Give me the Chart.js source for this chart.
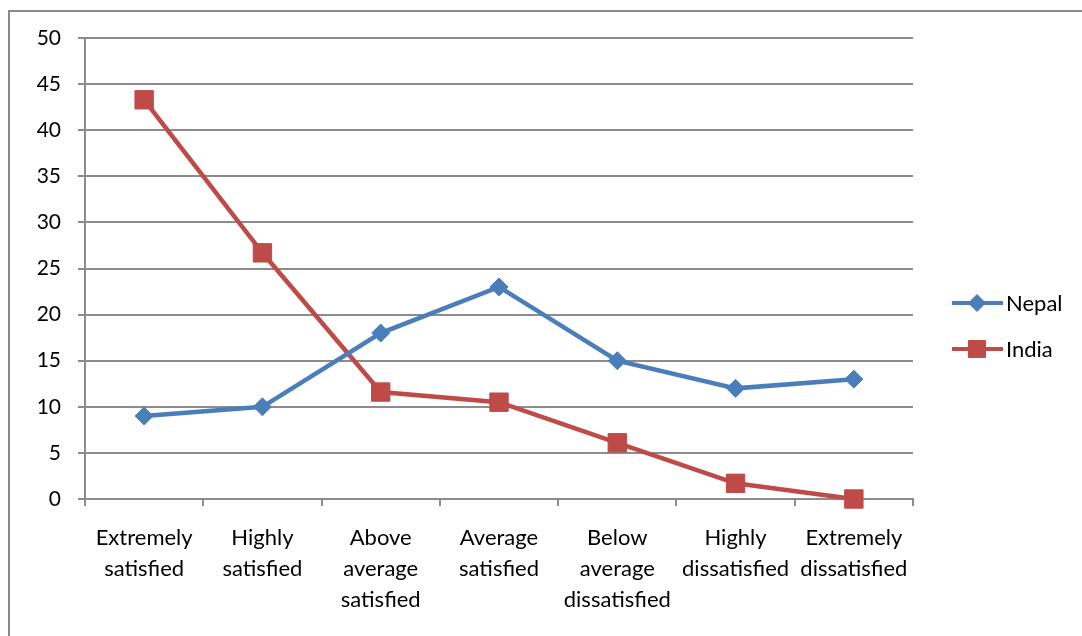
<!DOCTYPE html>
<html>
<head>
<meta charset="utf-8">
<script src="https://cdn.jsdelivr.net/npm/chart.js@4.4.0/dist/chart.umd.min.js"></script>
<style>
  body { margin: 0; background: #fff; }
  #wrap { position: relative; width: 1082px; height: 636px; overflow: hidden; }
  #frame { position: absolute; left: 8px; top: 10px; width: 1200px; height: 700px;
           border-left: 2px solid #8a8a8a; border-top: 2px solid #8a8a8a; }
  canvas { position: absolute; left: 0; top: 0; }
</style>
</head>
<body>
<div id="wrap">
  <div id="frame"></div>
  <canvas id="myChart" width="1082" height="636"></canvas>
</div>
<script>
// categories and values
const categories = [
  ["Extremely", "satisfied"],
  ["Highly", "satisfied"],
  ["Above", "average", "satisfied"],
  ["Average", "satisfied"],
  ["Below", "average", "dissatisfied"],
  ["Highly", "dissatisfied"],
  ["Extremely", "dissatisfied"]
];
const nepal = [9, 10, 18, 23, 15, 12, 13];
const india = [43.3, 26.7, 11.6, 10.5, 6.1, 1.7, 0];
const yTicks = [0, 5, 10, 15, 20, 25, 30, 35, 40, 45, 50];

const FONT = "Lato, 'Open Sans', sans-serif";
const gridColor = '#8c8c8c';

// legend on the right: line + marker + name
const sideLegend = {
  id: 'sideLegend',
  afterDraw(chart) {
    const ctx = chart.ctx;
    const rows = [303, 349];
    chart.data.datasets.forEach((ds, i) => {
      const y = rows[i];
      ctx.save();
      ctx.strokeStyle = ds.borderColor;
      ctx.lineWidth = 4;
      ctx.beginPath();
      ctx.moveTo(952, y);
      ctx.lineTo(1003, y);
      ctx.stroke();
      ctx.fillStyle = ds.pointBackgroundColor;
      ctx.strokeStyle = ds.pointBackgroundColor;
      ctx.lineWidth = 1;
      Chart.helpers.drawPoint(ctx, {
        pointStyle: ds.pointStyle,
        radius: ds.pointStyle === 'rect' ? 12 : 8.5,
        borderWidth: 1
      }, 977, y);
      ctx.fillStyle = '#000';
      ctx.font = '22px ' + FONT;
      ctx.textBaseline = 'middle';
      ctx.textAlign = 'left';
      ctx.fillText(ds.label, 1006, y + 1);
      ctx.restore();
    });
  }
};

const ctx = document.getElementById("myChart").getContext("2d");
new Chart(ctx, {
  type: 'line',
  data: {
    labels: categories,
    datasets: [
      {
        label: 'Nepal',
        data: nepal,
        borderColor: '#4a7ebb',
        backgroundColor: '#4a7ebb',
        pointBackgroundColor: '#4a7ebb',
        pointBorderColor: '#4a7ebb',
        borderWidth: 4.5,
        pointStyle: 'rectRot',
        pointRadius: 9,
        pointBorderWidth: 1,
        tension: 0,
        clip: false
      },
      {
        label: 'India',
        data: india,
        borderColor: '#be4b48',
        backgroundColor: '#be4b48',
        pointBackgroundColor: '#be4b48',
        pointBorderColor: '#be4b48',
        borderWidth: 4.5,
        pointStyle: 'rect',
        pointRadius: 13,
        pointBorderWidth: 1,
        tension: 0,
        clip: false
      }
    ]
  },
  options: {
    responsive: false,
    animation: false,
    layout: { padding: { left: 8, top: 38, right: 169, bottom: 0 } },
    plugins: {
      legend: { display: false },
      tooltip: { enabled: false }
    },
    scales: {
      x: {
        offset: true,
        grid: {
          offset: true,
          drawOnChartArea: false,
          drawTicks: true,
          tickLength: 7,
          color: gridColor,
          lineWidth: 2
        },
        border: { color: gridColor, width: 2 },
        ticks: {
          autoSkip: false,
          maxRotation: 0,
          minRotation: 0,
          padding: 16,
          color: '#000',
          font: { family: FONT, size: 22, lineHeight: 1.41 }
        },
        afterFit(scale) { scale.height = 137; }
      },
      y: {
        min: 0,
        max: 50,
        afterBuildTicks(scale) { scale.ticks = yTicks.map(v => ({ value: v })); },
        grid: {
          color: gridColor,
          lineWidth: 2,
          tickLength: 7
        },
        border: { color: gridColor, width: 2 },
        ticks: {
          padding: 17,
          color: '#000',
          font: { family: FONT, size: 21 }
        },
        afterFit(scale) { scale.width = 77; }
      }
    }
  },
  plugins: [sideLegend]
});
</script>
</body>
</html>
